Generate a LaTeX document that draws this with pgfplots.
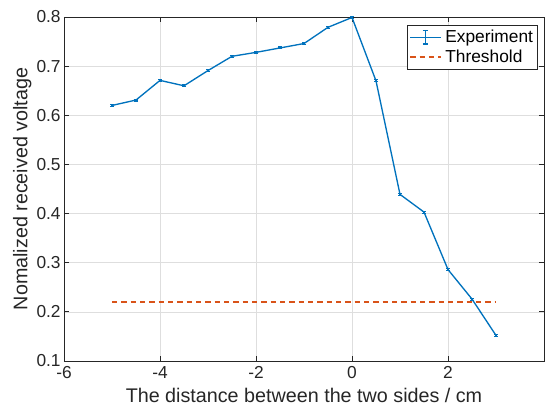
\documentclass[border=0pt]{standalone}
\usepackage{pgfplots}
\pgfplotsset{compat=1.18}
\usepackage{fontspec}
\setmainfont{Liberation Sans}
\usetikzlibrary{calc}
\definecolor{mblue}{RGB}{0,114,189}
\definecolor{morange}{RGB}{217,83,25}
\definecolor{axgray}{RGB}{38,38,38}
\begin{document}
\begin{tikzpicture}
\begin{axis}[
    scale only axis,
    width=360pt, height=258pt,
    xmin=-6, xmax=4,
    ymin=0.1, ymax=0.8,
    xtick={-6,-4,-2,0,2},
    ytick={0.1,0.2,0.3,0.4,0.5,0.6,0.7,0.8},
    yticklabel style={xshift=1pt, /pgf/number format/.cd, fixed, fixed zerofill, precision=1},
    /pgf/number format/assume math mode=true,
    tick align=inside,
    major tick length=4pt,
    grid=major,
    grid style={color=black!13, line width=0.4pt},
    axis line style={color=axgray, line width=0.6pt},
    tick style={color=axgray, line width=0.6pt},
    ticklabel style={font=\fontsize{13}{15}\selectfont, color=axgray},
    xticklabel style={yshift=-0.5pt},
    xlabel={The distance between the two sides / cm},
    ylabel={Nomalized received voltage},
    label style={font=\fontsize{14.8}{17}\selectfont, color=axgray},
    xlabel style={yshift=-0.5pt},
    ylabel style={yshift=-3pt},
    legend style={at={(0.9875,0.977)}, anchor=north east, draw=axgray, line width=0.5pt,
        font=\fontsize{13}{15}\selectfont, inner sep=1.5pt, row sep=0pt,
        cells={anchor=west, inner xsep=0pt},
        /tikz/every odd column/.append style={column sep=1pt}},
]
\addplot[color=mblue, line width=1pt, mark=none,
    legend image code/.code={
        \draw[line width=1pt] (0cm,0cm) -- (0.8cm,0cm);
        \draw[line width=1pt] (0.4cm,-0.18cm) -- (0.4cm,0.18cm);
        \draw[line width=1pt] (0.33cm,-0.18cm) -- (0.47cm,-0.18cm);
        \draw[line width=1pt] (0.33cm,0.18cm) -- (0.47cm,0.18cm);
    },
    error bars/.cd, y dir=both, y explicit,
    error bar style={line width=0.8pt},
    error mark options={rotate=90, mark size=1.5pt, line width=0.8pt}]
    coordinates {
    (-5.0, 0.620) +- (0, 0.002)
    (-4.5, 0.631) +- (0, 0.002)
    (-4.0, 0.671) +- (0, 0.002)
    (-3.5, 0.660) +- (0, 0.002)
    (-3.0, 0.691) +- (0, 0.002)
    (-2.5, 0.720) +- (0, 0.002)
    (-2.0, 0.728) +- (0, 0.002)
    (-1.5, 0.737) +- (0, 0.002)
    (-1.0, 0.746) +- (0, 0.002)
    (-0.5, 0.779) +- (0, 0.002)
    ( 0.0, 0.799) +- (0, 0.002)
    ( 0.5, 0.670) +- (0, 0.002)
    ( 1.0, 0.439) +- (0, 0.002)
    ( 1.5, 0.403) +- (0, 0.002)
    ( 2.0, 0.286) +- (0, 0.002)
    ( 2.5, 0.226) +- (0, 0.002)
    ( 3.0, 0.152) +- (0, 0.002)
};
\addlegendentry{Experiment}
\addplot[color=morange, line width=1pt, dash pattern=on 4pt off 3pt,
    legend image code/.code={\draw (0cm,0cm) -- (0.8cm,0cm);}] coordinates {
    (-5, 0.22)
    (3, 0.22)
};
\addlegendentry{Threshold}
\end{axis}
\pgfresetboundingbox
\useasboundingbox ($(current axis.south west)+(-48pt,-39.75pt)$) rectangle ($(current axis.north east)+(0.75pt,12.75pt)$);
\end{tikzpicture}
\end{document}
